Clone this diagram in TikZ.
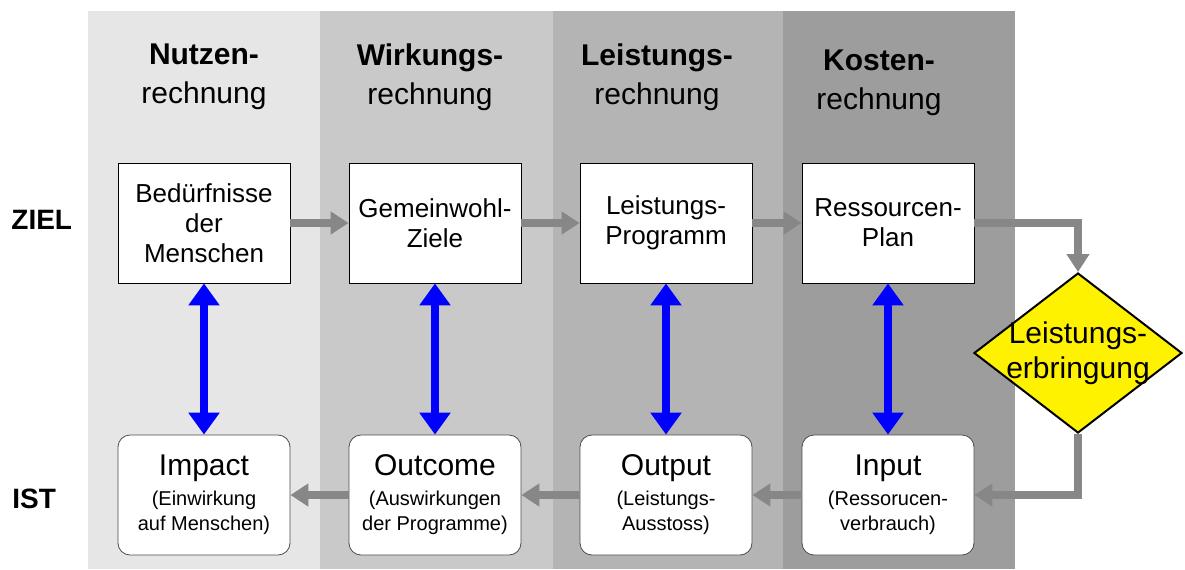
\documentclass[tikz,border=0pt]{standalone}
\usepackage{fontspec}
\setmainfont{Liberation Sans}
\usetikzlibrary{shapes.geometric,arrows.meta}

\definecolor{colNutzen}{HTML}{E6E6E6}
\definecolor{colWirkung}{HTML}{C9C9C9}
\definecolor{colLeistung}{HTML}{B4B4B4}
\definecolor{colKosten}{HTML}{9D9D9D}
\definecolor{arrowGray}{HTML}{878787}

\newcommand{\subtxt}[1]{{\fontsize{10}{12.5}\selectfont #1}}

\tikzstyle{zielNode} = [rectangle, minimum width=86pt, minimum height=60pt, text centered, align=center, draw=black, fill=white, font=\fontsize{13}{15}\selectfont]
\tikzstyle{istNode} = [rectangle, rounded corners=6pt, minimum width=86pt, minimum height=60pt, text centered, align=center, draw=black!70, fill=white, font=\fontsize{15}{15}\selectfont]
\tikzstyle{headNode} = [align=center, font=\fontsize{15}{19.5}\selectfont]
\tikzstyle{rowLabel} = [anchor=west, inner sep=0pt, font=\fontsize{14}{16}\selectfont\bfseries]
\tikzstyle{decNode} = [diamond, minimum width=104pt, minimum height=80pt, inner sep=0pt, draw=black, line width=1pt, fill=yellow]
\tikzstyle{grayArrow} = [line width=3.8pt, draw=arrowGray, -{Triangle[width=11pt,length=9pt]}]
\tikzstyle{blueArrow} = [line width=4pt, draw=blue, {Triangle[width=15pt,length=11pt]}-{Triangle[width=15pt,length=11pt]}]

\begin{document}
\begin{tikzpicture}[x=0.5pt, y=-0.5pt, node distance=115.5pt]
    \useasboundingbox (0,0) rectangle (1185,569);
    % column backgrounds
    \fill[colNutzen] (88,11) rectangle (320,569);
    \fill[colWirkung] (320,11) rectangle (553,569);
    \fill[colLeistung] (553,11) rectangle (783,569);
    \fill[colKosten] (783,11) rectangle (1015,569);

    \node (hNutzen)[headNode] at (204,77) {\textbf{Nutzen-}\\rechnung};
    \node (hWirkung)[headNode] at (430,77) {\textbf{Wirkungs-}\\rechnung};
    \node (hLeistung)[headNode] at (657,77) {\textbf{Leistungs-}\\rechnung};
    \node (hKosten)[headNode] at (879,83) {\textbf{Kosten-}\\rechnung};

    \node (ziel)[rowLabel] at (11,220) {ZIEL};
    \node (ist)[rowLabel] at (12,499) {IST};

    \node (beduerf)[zielNode] at (204,223) {Bedürfnisse\\der\\Menschen};
    \node (gemein)[zielNode, right of=beduerf] {Gemeinwohl-\\Ziele};
    \node (lprog)[zielNode, right of=gemein] {Leistungs-\\Programm};
    \node (plan)[zielNode, right of=lprog, xshift=-4.5pt] {Ressourcen-\\Plan};

    \node (impact)[istNode, below of=beduerf, yshift=-20.5pt] {Impact\\\subtxt{(Einwirkung}\\[-2.5pt]\subtxt{auf Menschen)}};
    \node (outcome)[istNode, below of=gemein, yshift=-20.5pt] {Outcome\\\subtxt{(Auswirkungen}\\[-2.5pt]\subtxt{der Programme)}};
    \node (output)[istNode, below of=lprog, yshift=-20.5pt] {Output\\\subtxt{(Leistungs-}\\[-2.5pt]\subtxt{Ausstoss)}};
    \node (input)[istNode, below of=plan, yshift=-20.5pt] {Input\\\subtxt{(Ressorucen-}\\[-2.5pt]\subtxt{verbrauch)}};

    \node (leist)[decNode, label={[align=center, font=\fontsize{15}{17.5}\selectfont]center:Leistungs-\\erbringung}] at (1078,353) {};

    \draw [grayArrow] (beduerf) -- (gemein);
    \draw [grayArrow] (gemein) -- (lprog);
    \draw [grayArrow] (lprog) -- (plan);
    \draw [grayArrow] (plan) -| (leist);
    \draw [grayArrow] (leist) |- (input);
    \draw [grayArrow] (input) -- (output);
    \draw [grayArrow] (output) -- (outcome);
    \draw [grayArrow] (outcome) -- (impact);

    \draw [blueArrow] (beduerf) -- (impact);
    \draw [blueArrow] (gemein) -- (outcome);
    \draw [blueArrow] (lprog) -- (output);
    \draw [blueArrow] (plan) -- (input);
\end{tikzpicture}
\end{document}
